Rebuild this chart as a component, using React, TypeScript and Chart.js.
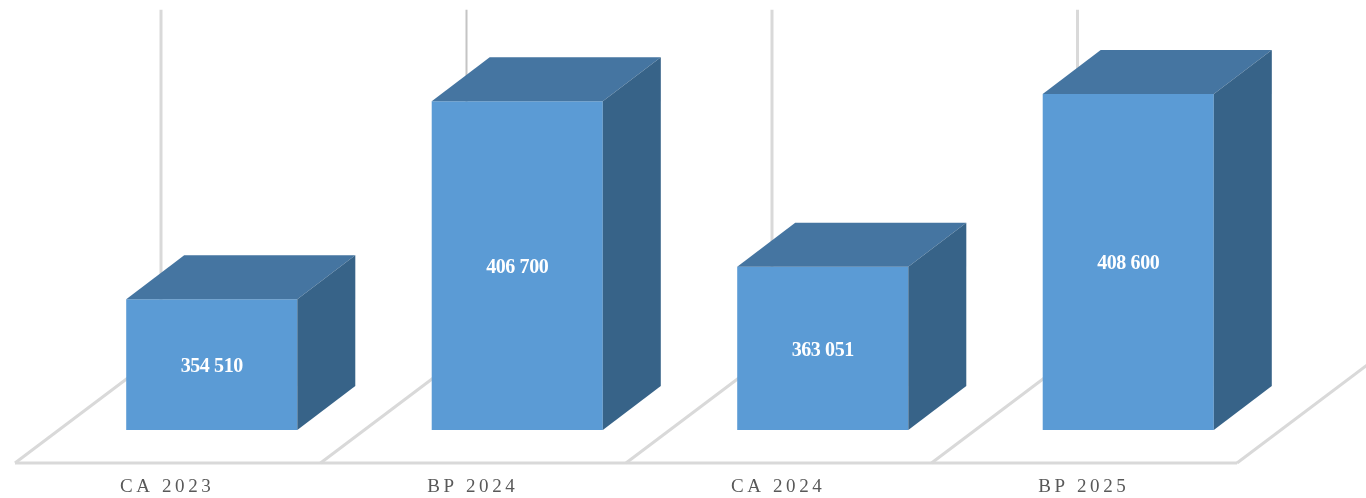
import React, { useEffect, useRef } from "react";
import { Chart, registerables } from "chart.js";

Chart.register(...registerables);

const categories = ["CA 2023", "BP 2024", "CA 2024", "BP 2025"];
const amounts = [354510, 406700, 363051, 408600];
const amountLabels = ["354 510", "406 700", "363 051", "408 600"];

const FRONT = "#5B9BD5";
const TOP = "#4575A1";
const SIDE = "#376388";
const FLOOR = "#D9D9D9";
const DX = 58; // depth of a bar, horizontally
const DY = 44; // depth of a bar, vertically

const threeD = {
  id: "threeD",
  beforeDraw(chart: any) {
    chart.ctx.letterSpacing = "3.6px";
  },
  beforeDatasetsDraw(chart: any) {
    const { ctx, scales } = chart;
    ctx.letterSpacing = "0px";
    const x = scales.x;
    const y = scales.y;
    const base = y.getPixelForValue(y.min);
    const step = x.width / categories.length;
    const fx = x.left - 44;
    const fy = base + 33;
    const bx = fx + 146;
    const by = fy - 110;
    const wallTop = by - (base - y.getPixelForValue(y.max)) - 2;
    ctx.save();
    ctx.strokeStyle = FLOOR;
    ctx.lineWidth = 3;
    ctx.lineJoin = "round";
    ctx.lineCap = "butt";
    ctx.beginPath();
    ctx.moveTo(fx, fy);
    ctx.lineTo(fx + step * categories.length, fy);
    ctx.stroke();
    for (let i = 0; i <= categories.length; i++) {
      ctx.beginPath();
      ctx.moveTo(fx + step * i, fy);
      ctx.lineTo(bx + step * i, by);
      ctx.stroke();
      ctx.beginPath();
      ctx.moveTo(bx + step * i, by);
      ctx.lineTo(bx + step * i, wallTop);
      if (i === 1) {
        ctx.save();
        ctx.strokeStyle = "#C4C4C4";
        ctx.lineWidth = 2;
        ctx.stroke();
        ctx.restore();
      } else {
        ctx.stroke();
      }
    }
    ctx.restore();
  },
  afterDatasetsDraw(chart: any) {
    const { ctx, scales } = chart;
    const bars = chart.getDatasetMeta(0).data;
    const bottom = scales.y.getPixelForValue(scales.y.min);
    ctx.save();
    bars.forEach((b: any, i: number) => {
      const left = b.x - b.width / 2;
      const right = b.x + b.width / 2;
      const top = b.y;
      ctx.fillStyle = TOP;
      ctx.beginPath();
      ctx.moveTo(left, top);
      ctx.lineTo(left + DX, top - DY);
      ctx.lineTo(right + DX, top - DY);
      ctx.lineTo(right, top);
      ctx.closePath();
      ctx.fill();
      ctx.fillStyle = SIDE;
      ctx.beginPath();
      ctx.moveTo(right, top);
      ctx.lineTo(right + DX, top - DY);
      ctx.lineTo(right + DX, bottom - DY);
      ctx.lineTo(right, bottom);
      ctx.closePath();
      ctx.fill();
      ctx.fillStyle = "#FFFFFF";
      ctx.font = 'bold 20px "Liberation Serif"';
      ctx.letterSpacing = "-0.4px";
      ctx.textAlign = "center";
      ctx.textBaseline = "middle";
      ctx.fillText(amountLabels[i], b.x, (top + bottom) / 2 + 2);
    });
    ctx.restore();
  },
};

export default function App() {
  const ref = useRef<HTMLCanvasElement>(null);
  useEffect(() => {
    const chart = new Chart(ref.current as HTMLCanvasElement, {
      type: "bar",
      data: {
        labels: categories,
        datasets: [
          {
            data: amounts,
            backgroundColor: FRONT,
            borderWidth: 0,
            categoryPercentage: 1,
            barPercentage: 0.56,
          },
        ],
      },
      options: {
        responsive: false,
        animation: false,
        layout: { padding: { left: 59, right: 85, top: 88.7, bottom: 0 } },
        plugins: { legend: { display: false }, tooltip: { enabled: false } },
        scales: {
          y: { display: false, min: 320000, max: 410000 },
          x: {
            afterFit(scale: any) {
              scale.height = 68;
            },
            grid: { display: false },
            border: { display: false },
            ticks: {
              color: "#595959",
              font: { family: '"Liberation Serif"', size: 19 },
              padding: 38,
              labelOffset: -44.5,
              maxRotation: 0,
              autoSkip: false,
            },
          },
        },
      },
      plugins: [threeD],
    } as any);
    return () => chart.destroy();
  }, []);
  return (
    <div style={{ position: "absolute", left: 0, top: 0, width: 1366, height: 498, overflow: "hidden", background: "#fff" }}>
      <canvas ref={ref} width={1366} height={498} style={{ display: "block" }} />
    </div>
  );
}
